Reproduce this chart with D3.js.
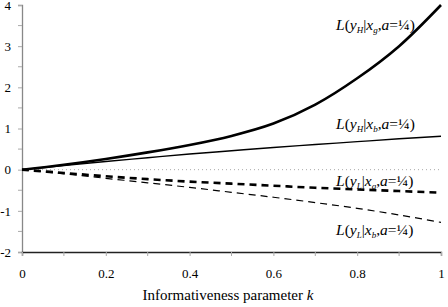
<!DOCTYPE html>
<html>
<head>
<meta charset="utf-8">
<script src="https://cdn.jsdelivr.net/npm/d3@7"></script>
<style>
  body { margin: 0; background: #fff; }
  svg text { font-family: "Liberation Serif", "DejaVu Serif", serif !important; }
</style>
</head>
<body>
<div id="chart"></div>
<script>
// informativeness parameter k
var kValues = [0, 0.1, 0.2, 0.3, 0.4, 0.5, 0.6, 0.7, 0.8, 0.9, 1.0];

// likelihood curves, a = 1/4
var yHxg = [0, 0.12, 0.26, 0.42, 0.60, 0.82, 1.12, 1.58, 2.22, 3.0, 4.0];
var yHxb = [0, 0.10, 0.20, 0.29, 0.38, 0.46, 0.54, 0.61, 0.68, 0.75, 0.81];
var yLxg = [0, -0.08, -0.16, -0.23, -0.29, -0.34, -0.39, -0.44, -0.48, -0.52, -0.56];
var yLxb = [0, -0.10, -0.21, -0.32, -0.43, -0.55, -0.67, -0.80, -0.94, -1.10, -1.28];

var xTicks = [0, 0.2, 0.4, 0.6, 0.8, 1];
var xMinor = [0.1, 0.3, 0.5, 0.7, 0.9];
var yTicks = [-2, -1, 0, 1, 2, 3, 4];
var yMinor = [-1.5, -0.5, 0.5, 1.5, 2.5, 3.5];

var width = 448, height = 307;
var serif = '"Liberation Serif", "DejaVu Serif", serif';

var svg = d3.select("#chart")
    .append("svg")
    .attr("width", width)
    .attr("height", height);

var x = d3.scaleLinear()
    .domain([0, 1])
    .range([22, 441]);

var y = d3.scaleLinear()
    .domain([-2, 4])
    .range([252, 5]);

// zero line
svg.append("line")
    .attr("x1", x(0)).attr("x2", x(1))
    .attr("y1", y(0)).attr("y2", y(0))
    .attr("stroke", "#aaa")
    .attr("stroke-width", 1)
    .attr("stroke-dasharray", "1,3");

// y axis (grey)
var yAxis = d3.axisLeft(y)
    .tickValues(yTicks)
    .tickSize(4)
    .tickPadding(7)
    .tickFormat(function(d) { return String(d); });

var gy = svg.append("g")
    .attr("transform", "translate(" + x(0) + ",0)")
    .call(yAxis)
    .attr("font-family", serif);
gy.select(".domain").attr("stroke", "#888").attr("stroke-width", 1.3);
gy.selectAll(".tick line").attr("stroke", "#aaa");
gy.selectAll("text").attr("font-size", 13).attr("fill", "#000");

gy.selectAll(".minor")
    .data(yMinor)
    .enter()
    .append("line")
    .attr("class", "minor")
    .attr("x1", -4).attr("x2", 0)
    .attr("y1", function(d) { return y(d); })
    .attr("y2", function(d) { return y(d); })
    .attr("stroke", "#aaa");

// x axis (black line, grey ticks)
var xAxis = d3.axisBottom(x)
    .tickValues(xTicks)
    .tickSize(4)
    .tickPadding(13)
    .tickFormat(function(d) { return d; });

var gx = svg.append("g")
    .attr("transform", "translate(0," + y(-2) + ")")
    .call(xAxis)
    .attr("font-family", serif);
gx.select(".domain").attr("stroke", "#222").attr("stroke-width", 1.3);
gx.selectAll(".tick line").attr("stroke", "#aaa");
gx.selectAll("text").attr("font-size", 13).attr("fill", "#000");

gx.selectAll(".minor")
    .data(xMinor)
    .enter()
    .append("line")
    .attr("class", "minor")
    .attr("x1", function(d) { return x(d); })
    .attr("x2", function(d) { return x(d); })
    .attr("y1", 0).attr("y2", 4)
    .attr("stroke", "#aaa");

svg.append("text")
    .attr("x", 228)
    .attr("y", 300)
    .attr("text-anchor", "middle")
    .attr("font-size", 15)
    .html('Informativeness parameter <tspan font-style="italic">k</tspan>');

// curves
var series = [
    { vals: yHxg, w: 2.6, dash: null,  sub1: "H", sub2: "g", ly: 30 },
    { vals: yHxb, w: 1.4, dash: null,  sub1: "H", sub2: "b", ly: 129 },
    { vals: yLxg, w: 2.6, dash: "7,5", sub1: "L", sub2: "g", ly: 186 },
    { vals: yLxb, w: 1.2, dash: "7,5", sub1: "L", sub2: "b", ly: 235 }
];

var line = d3.line()
    .x(function(d) { return x(d[0]); })
    .y(function(d) { return y(d[1]); })
    .curve(d3.curveCatmullRom);

svg.selectAll(".curve")
    .data(series)
    .enter()
    .append("path")
    .attr("class", "curve")
    .attr("fill", "none")
    .attr("stroke", "#000")
    .attr("stroke-width", function(d) { return d.w; })
    .attr("stroke-dasharray", function(d) { return d.dash; })
    .attr("d", function(d) {
        return line(kValues.map(function(k, i) { return [k, d.vals[i]]; }));
    });

// labels  L(y_H | x_g, a=1/4)
series.forEach(function(s) {
    var t = svg.append("text")
        .attr("x", 336)
        .attr("y", s.ly)
        .attr("font-size", 15.5);
    t.append("tspan").attr("font-style", "italic").text("L");
    t.append("tspan").text("(");
    t.append("tspan").attr("font-style", "italic").text("y");
    t.append("tspan").attr("font-style", "italic").attr("font-size", 9)
        .attr("dy", 3).text(s.sub1);
    t.append("tspan").attr("dy", -3).text("|");
    t.append("tspan").attr("font-style", "italic").text("x");
    t.append("tspan").attr("font-style", "italic").attr("font-size", 9)
        .attr("dy", 3).text(s.sub2);
    t.append("tspan").attr("dy", -3).text(",");
    t.append("tspan").attr("font-style", "italic").text("a");
    t.append("tspan").text("=¼)");
});
</script>
</body>
</html>
